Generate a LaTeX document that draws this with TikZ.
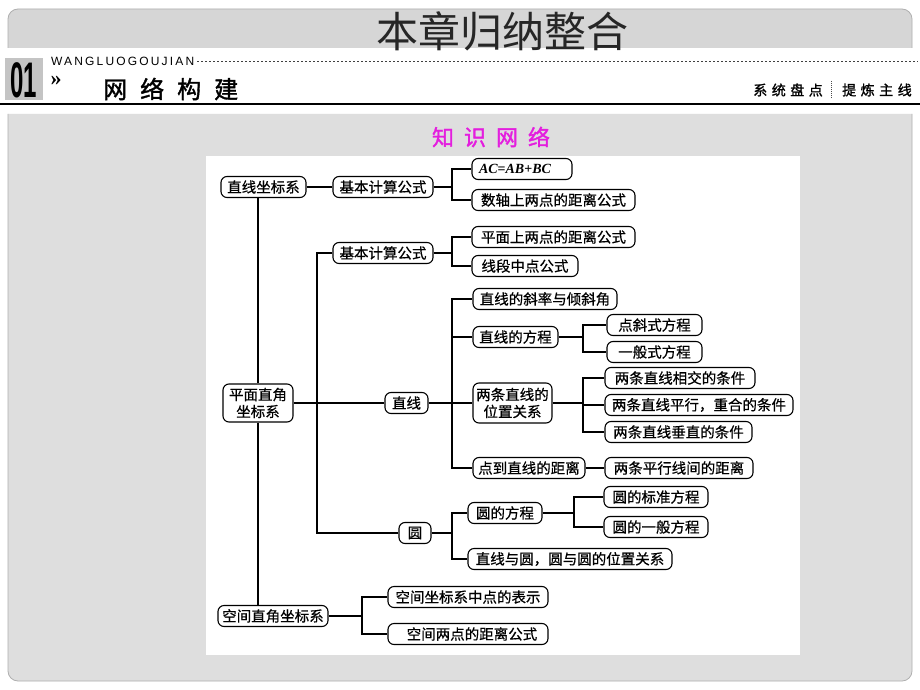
\documentclass[tikz,border=0pt]{standalone}
\usepackage{fontspec}
\setmainfont{Liberation Serif}
\newfontfamily\cjk{Noto Sans CJK SC}
\newfontfamily\cjkn{Noto Sans CJK SC}[FakeBold=0.6]
\newfontfamily\cjkb{Noto Sans CJK SC}[FakeBold=1.5]
\newfontfamily\hdsans{Liberation Sans}[LetterSpace=18]
\definecolor{panelgray}{RGB}{222,222,222}
\definecolor{panelline}{RGB}{175,175,175}
\definecolor{hdrgray}{RGB}{214,214,214}
\definecolor{numgray}{RGB}{196,196,196}
\definecolor{zsmag}{RGB}{228,30,222}
\begin{document}
\begin{tikzpicture}[x=1pt,y=-1pt,
  kn/.style={draw=black, line width=1.1pt, rounded corners=6pt, fill=white,
    inner sep=0pt, minimum height=21pt,
    font=\cjkn\fontsize{14.5}{17}\selectfont, align=center},
  ln/.style={line width=1.1pt, black},
  hdr/.style={inner sep=0pt}]
\useasboundingbox (0,0) rectangle (920,690);
\fill[white] (0,0) rectangle (920,690);

% ---------- header ----------
\path[draw=panelline, fill=hdrgray, line width=0.8pt, rounded corners=10pt]
  (8,48) -- (8,9) -- (912,9) -- (912,48);
\node[hdr, font=\cjk\fontsize{42}{42}\selectfont, text=black!85] (title) at (502,31) {本章归纳整合};

\fill[numgray] (5,58) rectangle (43,100);
\node[hdr] (num) at (24,80)
  {\scalebox{0.48}[1]{\fontsize{50}{50}\selectfont\fontspec{Liberation Sans}\bfseries 01}};
\node[hdr, anchor=west, font=\hdsans\fontsize{12}{12}\selectfont] (wl) at (51,61) {WANGLUOGOUJIAN};
\coordinate (dotend) at (918,62);
\draw[dash pattern=on 2pt off 2pt, line width=0.9pt, black!75] ([xshift=3pt]wl.east) -- (wl.east -| dotend);
\node[hdr, anchor=base, font=\fontsize{22}{22}\selectfont\bfseries] (gg) at (56,86) {»};
\node[hdr, anchor=west, font=\cjkb\fontsize{24}{24}\selectfont] (wljj) at (103,89)
  {网\hspace{13pt}络\hspace{13pt}构\hspace{13pt}建};
\node[hdr, anchor=east, font=\cjkb\fontsize{14}{14}\selectfont] (xtpd) at (823,90)
  {系\hspace{4.5pt}统\hspace{4.5pt}盘\hspace{4.5pt}点};
\node[hdr, anchor=west, font=\cjkb\fontsize{14}{14}\selectfont] (tlzx) at (842,90)
  {提\hspace{4.5pt}炼\hspace{4.5pt}主\hspace{4.5pt}线};
\coordinate (sepT) at (831,81);
\coordinate (sepB) at (831,98);
\draw[dash pattern=on 1pt off 1pt, line width=1pt, black!70] (sepT) -- (sepB);
\coordinate (hl) at (0,104);
\coordinate (hr) at (920,104);
\draw[line width=2pt] (hl) -- (hr);

% ---------- panel ----------
\path[draw=panelline, fill=panelgray, line width=0.8pt, rounded corners=10pt]
  (8,114) -- (8,681) -- (912,681) -- (912,114);
\node[hdr, font=\cjkb\fontsize{22}{22}\selectfont, text=zsmag] (zswl) at (491,137)
  {知\hspace{10pt}识\hspace{10pt}网\hspace{10pt}络};
\fill[white] (206,156) rectangle (800,655);

% ---------- nodes ----------
\node[kn, minimum width=85pt]  (zxzb) at (263.5,187) {直线坐标系};
\node[kn, minimum width=100pt] (jb1)  at (383,187) {基本计算公式};
\node[kn, minimum width=100pt] (ac)   at (522,169)
  {\makebox[86pt][l]{\rmfamily\fontsize{14}{17}\selectfont\bfseries\itshape AC\upshape=\itshape AB\upshape+\itshape BC}};
\node[kn, minimum width=163pt] (sz)   at (553.5,200) {数轴上两点的距离公式};

\node[kn, minimum width=70pt, minimum height=38pt] (pm) at (258,403) {平面直角\\坐标系};
\node[kn, minimum width=100pt] (jb2)  at (383,253) {基本计算公式};
\node[kn, minimum width=163pt] (pmls) at (553.5,237) {平面上两点的距离公式};
\node[kn, minimum width=106pt] (xdzd) at (525,266) {线段中点公式};

\node[kn, minimum width=43pt]  (zx)   at (406.5,403) {直线};
\node[kn, minimum width=144pt] (xl)   at (545,299) {直线的斜率与倾斜角};
\node[kn, minimum width=85pt]  (fc)   at (515.5,337) {直线的方程};
\node[kn, minimum width=95pt]  (ds)   at (654.5,325) {点斜式方程};
\node[kn, minimum width=95pt]  (yb)   at (654.5,352) {一般式方程};
\node[kn, minimum width=79pt, minimum height=40pt] (wz) at (512.5,403) {两条直线的\\位置关系};
\node[kn, minimum width=150pt] (xj)   at (680,378) {两条直线相交的条件};
\node[kn, minimum width=188pt] (px)   at (699,405) {两条直线平行，重合的条件};
\node[kn, minimum width=147pt] (cz)   at (678.5,432) {两条直线垂直的条件};
\node[kn, minimum width=112pt] (dd)   at (529,468) {点到直线的距离};
\node[kn, minimum width=148pt] (pxj)  at (679,468) {两条平行线间的距离};

\node[kn, minimum width=32pt]  (yuan) at (415,533) {圆};
\node[kn, minimum width=74pt]  (yfc)  at (505,513) {圆的方程};
\node[kn, minimum width=104pt] (bz)   at (656,497) {圆的标准方程};
\node[kn, minimum width=104pt] (ybfc) at (656,527) {圆的一般方程};
\node[kn, minimum width=204pt] (zy)   at (570,559) {直线与圆，圆与圆的位置关系};

\node[kn, minimum width=110pt] (kj)   at (273,616) {空间直角坐标系};
\node[kn, minimum width=160pt] (kz)   at (468,597) {空间坐标系中点的表示};
\node[kn, minimum width=160pt] (kl)   at (468,634) {\hspace{8pt}空间两点的距离公式};

% ---------- branch coordinates ----------
\coordinate (t1) at (258,0);
\coordinate (t2) at (317,0);
\coordinate (b1) at (452,0);
\coordinate (b2) at (583,0);
\coordinate (b3) at (574,0);
\coordinate (b4) at (362,0);

% ---------- connectors ----------
\draw[ln] (zxzb.east) -- (jb1.west);
\draw[ln] (jb1.east) -- (jb1.east -| b1);
\draw[ln] (jb1.east -| b1) |- (ac.west);
\draw[ln] (jb1.east -| b1) |- (sz.west);

\draw[ln] (zxzb.south -| t1) -- (pm.north -| t1);
\draw[ln] (pm.south -| t1) -- (kj.north -| t1);

\draw[ln] (jb2.west) -- (jb2.west -| t2) |- (yuan.west);
\draw[ln] (jb2.east) -- (jb2.east -| b1);
\draw[ln] (jb2.east -| b1) |- (pmls.west);
\draw[ln] (jb2.east -| b1) |- (xdzd.west);

\draw[ln] (pm.east) -- (zx.west);
\draw[ln] (zx.east) -- (zx.east -| b1);
\draw[ln] (zx.east -| b1) |- (xl.west);
\draw[ln] (zx.east -| b1) |- (fc.west);
\draw[ln] (zx.east -| b1) |- (wz.west);
\draw[ln] (zx.east -| b1) |- (dd.west);

\draw[ln] (fc.east) -- (fc.east -| b2);
\draw[ln] (fc.east -| b2) |- (ds.west);
\draw[ln] (fc.east -| b2) |- (yb.west);

\draw[ln] (wz.east) -- (wz.east -| b2);
\draw[ln] (wz.east -| b2) |- (xj.west);
\draw[ln] (wz.east -| b2) |- (px.west);
\draw[ln] (wz.east -| b2) |- (cz.west);

\draw[ln] (dd.east) -- (pxj.west);

\draw[ln] (yuan.east) -- (yuan.east -| b1);
\draw[ln] (yuan.east -| b1) |- (yfc.west);
\draw[ln] (yuan.east -| b1) |- (zy.west);
\draw[ln] (yfc.east) -- (yfc.east -| b3);
\draw[ln] (yfc.east -| b3) |- (bz.west);
\draw[ln] (yfc.east -| b3) |- (ybfc.west);

\draw[ln] (kj.east) -- (kj.east -| b4);
\draw[ln] (kj.east -| b4) |- (kz.west);
\draw[ln] (kj.east -| b4) |- (kl.west);
\end{tikzpicture}
\end{document}
